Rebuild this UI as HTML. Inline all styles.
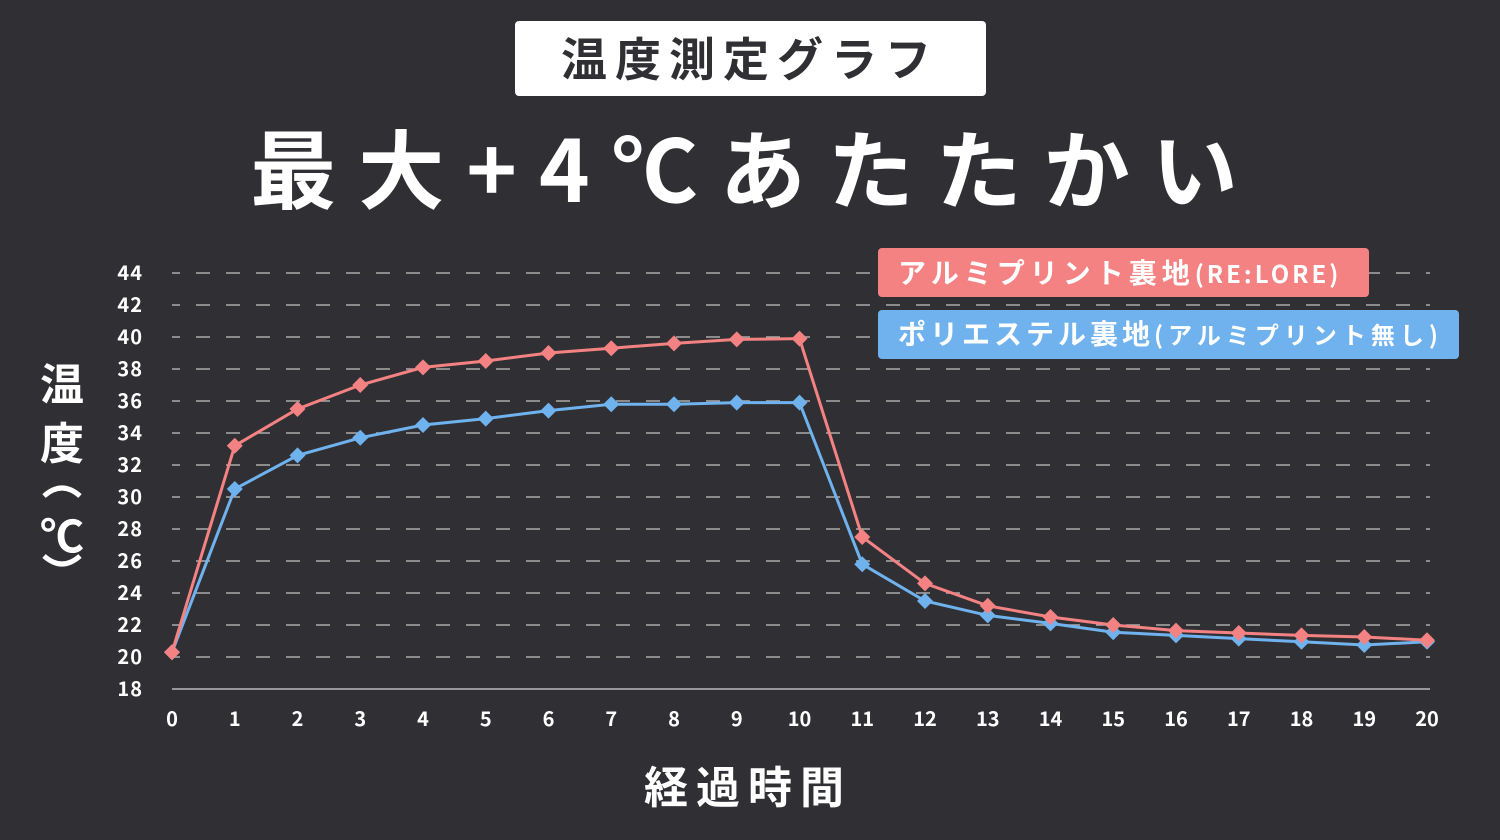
<!DOCTYPE html>
<html><head><meta charset="utf-8"><style>
html,body{margin:0;padding:0;background:#303034;}
body{width:1500px;height:840px;overflow:hidden;font-family:"Liberation Sans","Noto Sans CJK JP",sans-serif;}
</style></head><body>
<svg id="s" width="1500" height="840" xmlns="http://www.w3.org/2000/svg" style="display:block">
<rect width="1500" height="840" fill="#303034"/>
<rect x="515" y="21" width="471" height="75" rx="4" fill="#ffffff"/>
<text x="750" y="76" text-anchor="middle" font-family="Noto Sans CJK JP, sans-serif" font-weight="bold" font-size="46" letter-spacing="8" fill="#303034">温度測定グラフ</text>
<text x="755" y="202" text-anchor="middle" font-family="Noto Sans CJK JP, sans-serif" font-weight="bold" font-size="86" letter-spacing="22" fill="#ffffff">最大+4℃あたたかい</text>
<g id="grid"></g>
<line x1="172" y1="689" x2="1430" y2="689" stroke="#bbbbbb" stroke-width="1.5"/>
<g id="ylab" font-family="Noto Sans CJK JP, sans-serif" font-weight="bold" font-size="20" fill="#ffffff" text-anchor="end" letter-spacing="1"></g>
<g id="xlab" font-family="Noto Sans CJK JP, sans-serif" font-weight="bold" font-size="20" fill="#ffffff" text-anchor="middle"></g>
<g font-family="Noto Sans CJK JP, sans-serif" font-weight="bold" font-size="44" fill="#ffffff" text-anchor="middle">
<text x="62" y="400">温</text>
<text x="62" y="459">度</text>
<text x="62" y="552">℃</text>
</g>
<path d="M44 496 Q62 480 80 496" fill="none" stroke="#fff" stroke-width="5"/>
<path d="M44 556 Q62 572 80 556" fill="none" stroke="#fff" stroke-width="5"/>
<text x="748" y="803" text-anchor="middle" font-family="Noto Sans CJK JP, sans-serif" font-weight="bold" font-size="44" letter-spacing="8" fill="#ffffff">経過時間</text>
<g id="series"></g>
<rect x="878" y="248" width="491" height="49" rx="4" fill="#f48282"/>
<text x="898" y="283" font-family="Noto Sans CJK JP, sans-serif" font-weight="bold" font-size="28" letter-spacing="5" fill="#ffffff">アルミプリント裏地<tspan font-size="24" letter-spacing="3">(RE:LORE)</tspan></text>
<rect x="878" y="310" width="581" height="49" rx="4" fill="#6fb2ee"/>
<text x="898" y="344" font-family="Noto Sans CJK JP, sans-serif" font-weight="bold" font-size="28" letter-spacing="4" fill="#ffffff">ポリエステル裏地<tspan font-size="24" letter-spacing="5">(アルミプリント無し)</tspan></text>
</svg>
<script>
var NS="http://www.w3.org/2000/svg";
function el(t,a,p){var e=document.createElementNS(NS,t);for(var k in a)e.setAttribute(k,a[k]);p.appendChild(e);return e;}
function Y(v){return 689-(v-18)*16;}
function X(i){return 172+i*62.75;}
var g=document.getElementById("grid"),yl=document.getElementById("ylab"),xl=document.getElementById("xlab");
for(var v=20;v<=44;v+=2){el("line",{x1:172,y1:Y(v),x2:1430,y2:Y(v),stroke:"#aaaaaa","stroke-width":1.5,"stroke-dasharray":"14 16","stroke-dashoffset":"6"},g);}
for(var v=18;v<=44;v+=2){var t=el("text",{x:143,y:Y(v)+7},yl);t.textContent=v;}
for(var i=0;i<=20;i++){var t=el("text",{x:X(i),y:726},xl);t.textContent=i;}
var red=[20.3,33.2,35.5,37.0,38.1,38.5,39.0,39.3,39.6,39.85,39.9,27.5,24.6,23.2,22.5,22.0,21.65,21.5,21.35,21.25,21.05];
var blue=[20.3,30.5,32.6,33.7,34.5,34.9,35.4,35.8,35.8,35.9,35.9,25.8,23.5,22.6,22.1,21.55,21.35,21.15,20.95,20.75,20.95];
var s=document.getElementById("series");
[[blue,"#6fb2ee"],[red,"#f48282"]].forEach(function(d){
var pts=d[0].map(function(v,i){return X(i)+","+Y(v);}).join(" ");
el("polyline",{points:pts,fill:"none",stroke:d[1],"stroke-width":3},s);
d[0].forEach(function(v,i){var x=X(i),y=Y(v);el("polygon",{points:(x)+","+(y-8)+" "+(x+8)+","+y+" "+x+","+(y+8)+" "+(x-8)+","+y,fill:d[1]},s);});
});
</script>
</body></html>
